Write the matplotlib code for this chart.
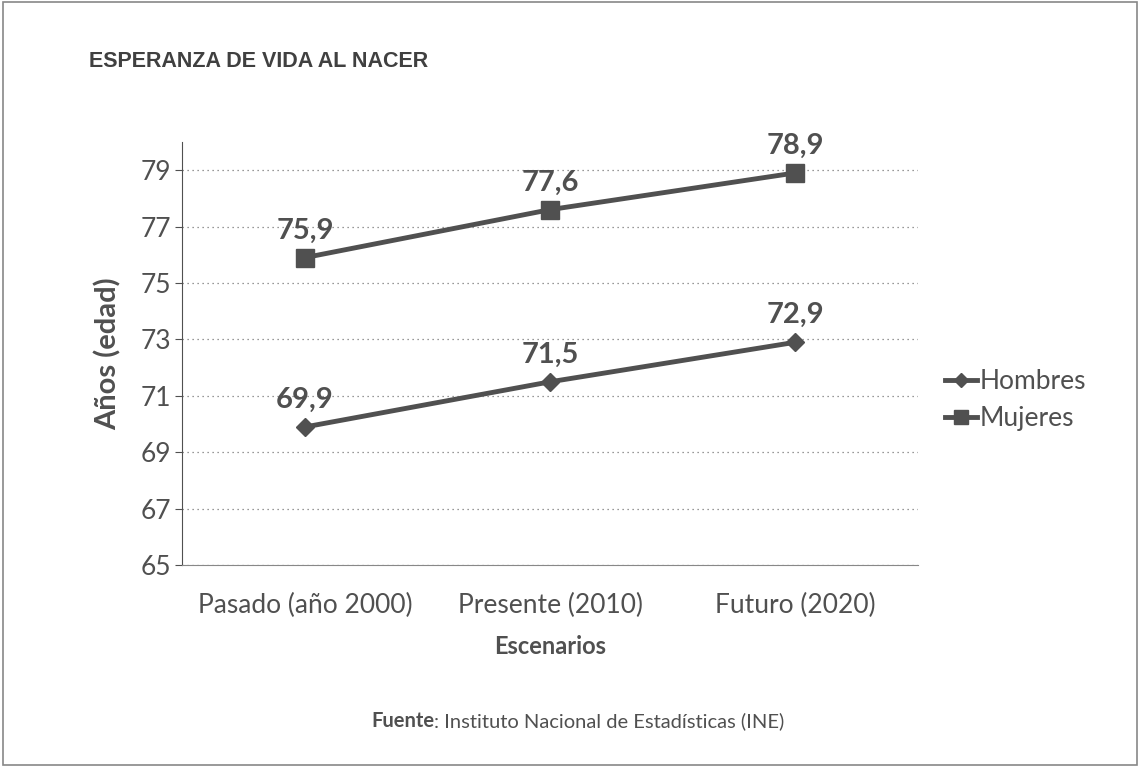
import matplotlib
matplotlib.use('Agg')
import matplotlib.pyplot as plt
from matplotlib.patches import Rectangle

escenarios = ['Pasado (año 2000)', 'Presente (2010)', 'Futuro (2020)']
hombres = [69.9, 71.5, 72.9]
mujeres = [75.9, 77.6, 78.9]
y_ticks = [65, 67, 69, 71, 73, 75, 77, 79]

gris = '#505050'
plt.rcParams['font.family'] = ['Lato', 'DejaVu Sans']

fig = plt.figure(figsize=(11.4, 7.67), dpi=100)
fig.patches.append(Rectangle((0.003, 0.003), 0.994, 0.994, transform=fig.transFigure,
                             fill=False, edgecolor='#888888', lw=1.2))
ax = fig.add_axes([0.16, 0.263, 0.645, 0.552])

x = range(len(escenarios))
ax.plot(x, hombres, color=gris, lw=3.5, marker='D', ms=9, label='Hombres')
ax.plot(x, mujeres, color=gris, lw=3.5, marker='s', ms=13, label='Mujeres')
for i in x:
    ax.text(i, hombres[i] + 0.5, f'{hombres[i]:.1f}'.replace('.', ','), ha='center', va='bottom',
            fontsize=21, fontweight='bold', color=gris)
    ax.text(i, mujeres[i] + 0.5, f'{mujeres[i]:.1f}'.replace('.', ','), ha='center', va='bottom',
            fontsize=21, fontweight='bold', color=gris)

ax.set_xlim(-0.5, 2.5)
ax.set_ylim(65, 80)
ax.set_yticks(y_ticks)
ax.set_xticks(list(x))
ax.set_xticklabels(escenarios)
ax.tick_params(axis='both', labelsize=19, labelcolor=gris, color=gris)
ax.tick_params(axis='x', length=0, pad=20)
ax.tick_params(axis='y', length=5, pad=3)
ax.yaxis.grid(True, ls=(0, (1, 3)), color='#777777', lw=0.9)
for s in ['top', 'right']:
    ax.spines[s].set_visible(False)
ax.spines['left'].set_color(gris)
ax.spines['bottom'].set_color('#888888')
ax.set_ylabel('Años (edad)', fontsize=21, fontweight='bold', color=gris, labelpad=14)
ax.set_xlabel('Escenarios', fontsize=17, fontweight='bold', color=gris, labelpad=12)

leg = ax.legend(loc='center left', bbox_to_anchor=(1.005, 0.39), frameon=False, fontsize=19,
                handlelength=1.2, handletextpad=0.1, labelspacing=0.45, markerscale=0.75)
for t in leg.get_texts():
    t.set_color(gris)

fig.text(0.078, 0.912, 'ESPERANZA DE VIDA AL NACER', fontsize=15.5, fontweight='bold', color='#404040',
         family=['Liberation Sans', 'DejaVu Sans'])
fig.text(0.326, 0.052, 'Fuente', fontsize=14.5, fontweight='bold', color=gris)
fig.text(0.381, 0.052, ': Instituto Nacional de Estadísticas (INE)', fontsize=14.5, color=gris)

fig.savefig('out.png', dpi=100)
